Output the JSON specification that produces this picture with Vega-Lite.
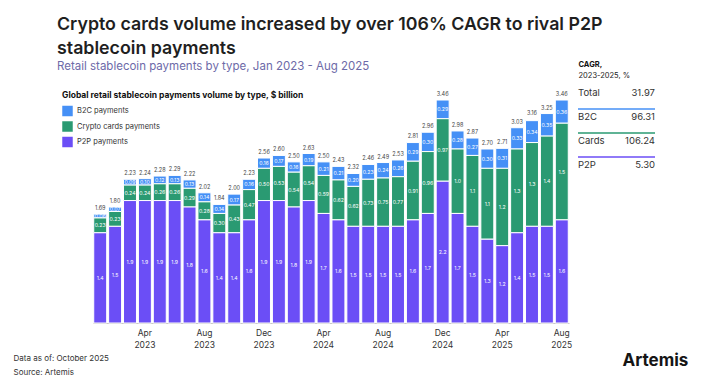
{
  "$schema": "https://vega.github.io/schema/vega-lite/v6.json",
  "width": 476,
  "height": 232,
  "autosize": {"type": "none"},
  "padding": {"left": 93, "top": 91, "right": 133, "bottom": 64},
  "background": "white",
  "config": {"font": "Inter", "view": {"stroke": null}},
  "title": {
    "text": ["Crypto cards volume increased by over 106% CAGR to rival P2P", "stablecoin payments"],
    "subtitle": "Retail stablecoin payments by type, Jan 2023 - Aug 2025",
    "anchor": "start",
    "frame": "group",
    "dx": -36,
    "offset": -12,
    "fontSize": 17.8,
    "fontWeight": 600,
    "color": "#1f1f1f",
    "lineHeight": 24,
    "subtitleFontSize": 11.5,
    "subtitleColor": "#6d6aa8",
    "subtitlePadding": 3
  },
  "datasets": {
    "m": [
      {"d": "2023-01", "P2P payments": 1.4, "Crypto cards payments": 0.23, "B2C payments": 0.06, "total": 1.69},
      {"d": "2023-02", "P2P payments": 1.5, "Crypto cards payments": 0.23, "B2C payments": 0.07, "total": 1.80},
      {"d": "2023-03", "P2P payments": 1.9, "Crypto cards payments": 0.24, "B2C payments": 0.09, "total": 2.23},
      {"d": "2023-04", "P2P payments": 1.9, "Crypto cards payments": 0.24, "B2C payments": 0.10, "total": 2.24},
      {"d": "2023-05", "P2P payments": 1.9, "Crypto cards payments": 0.26, "B2C payments": 0.12, "total": 2.28},
      {"d": "2023-06", "P2P payments": 1.9, "Crypto cards payments": 0.26, "B2C payments": 0.13, "total": 2.29},
      {"d": "2023-07", "P2P payments": 1.8, "Crypto cards payments": 0.29, "B2C payments": 0.13, "total": 2.22},
      {"d": "2023-08", "P2P payments": 1.6, "Crypto cards payments": 0.28, "B2C payments": 0.14, "total": 2.02},
      {"d": "2023-09", "P2P payments": 1.4, "Crypto cards payments": 0.30, "B2C payments": 0.14, "total": 1.84},
      {"d": "2023-10", "P2P payments": 1.4, "Crypto cards payments": 0.43, "B2C payments": 0.17, "total": 2.00},
      {"d": "2023-11", "P2P payments": 1.6, "Crypto cards payments": 0.47, "B2C payments": 0.16, "total": 2.23},
      {"d": "2023-12", "P2P payments": 1.9, "Crypto cards payments": 0.50, "B2C payments": 0.16, "total": 2.56},
      {"d": "2024-01", "P2P payments": 1.9, "Crypto cards payments": 0.53, "B2C payments": 0.17, "total": 2.60},
      {"d": "2024-02", "P2P payments": 1.8, "Crypto cards payments": 0.54, "B2C payments": 0.16, "total": 2.50},
      {"d": "2024-03", "P2P payments": 1.9, "Crypto cards payments": 0.54, "B2C payments": 0.19, "total": 2.63},
      {"d": "2024-04", "P2P payments": 1.7, "Crypto cards payments": 0.59, "B2C payments": 0.21, "total": 2.50},
      {"d": "2024-05", "P2P payments": 1.6, "Crypto cards payments": 0.62, "B2C payments": 0.21, "total": 2.43},
      {"d": "2024-06", "P2P payments": 1.5, "Crypto cards payments": 0.62, "B2C payments": 0.20, "total": 2.32},
      {"d": "2024-07", "P2P payments": 1.5, "Crypto cards payments": 0.73, "B2C payments": 0.23, "total": 2.46},
      {"d": "2024-08", "P2P payments": 1.5, "Crypto cards payments": 0.75, "B2C payments": 0.24, "total": 2.49},
      {"d": "2024-09", "P2P payments": 1.5, "Crypto cards payments": 0.77, "B2C payments": 0.26, "total": 2.53},
      {"d": "2024-10", "P2P payments": 1.6, "Crypto cards payments": 0.91, "B2C payments": 0.29, "total": 2.81},
      {"d": "2024-11", "P2P payments": 1.7, "Crypto cards payments": 0.96, "B2C payments": 0.30, "total": 2.96},
      {"d": "2024-12", "P2P payments": 2.2, "Crypto cards payments": 0.97, "B2C payments": 0.29, "total": 3.46},
      {"d": "2025-01", "P2P payments": 1.7, "Crypto cards payments": 1.0, "B2C payments": 0.28, "total": 2.98},
      {"d": "2025-02", "P2P payments": 1.5, "Crypto cards payments": 1.1, "B2C payments": 0.27, "total": 2.87},
      {"d": "2025-03", "P2P payments": 1.3, "Crypto cards payments": 1.1, "B2C payments": 0.30, "total": 2.70},
      {"d": "2025-04", "P2P payments": 1.2, "Crypto cards payments": 1.2, "B2C payments": 0.31, "total": 2.71},
      {"d": "2025-05", "P2P payments": 1.4, "Crypto cards payments": 1.3, "B2C payments": 0.33, "total": 3.03},
      {"d": "2025-06", "P2P payments": 1.5, "Crypto cards payments": 1.3, "B2C payments": 0.34, "total": 3.16},
      {"d": "2025-07", "P2P payments": 1.5, "Crypto cards payments": 1.4, "B2C payments": 0.35, "total": 3.25},
      {"d": "2025-08", "P2P payments": 1.6, "Crypto cards payments": 1.5, "B2C payments": 0.36, "total": 3.46}
    ],
    "cagr": [
      {"k": "Total", "c": 31.97},
      {"k": "B2C", "c": 96.31, "t": "B2C payments"},
      {"k": "Cards", "c": 106.24, "t": "Crypto cards payments"},
      {"k": "P2P", "c": 5.30, "t": "P2P payments"}
    ]
  },
  "layer": [
    {
      "data": {"name": "m"},
      "layer": [
        {
          "transform": [
            {"fold": ["B2C payments", "Crypto cards payments", "P2P payments"], "as": ["t", "v"]},
            {"stack": "v", "groupby": ["d"], "sort": [{"field": "t", "order": "descending"}], "as": ["y0", "y1"]},
            {"calculate": "(datum.y0 + datum.y1) / 2", "as": "ym"}
          ],
          "layer": [
            {
              "mark": {"type": "bar", "stroke": "white", "strokeWidth": 1},
              "encoding": {
                "x": {
                  "field": "d", "type": "ordinal",
                  "scale": {"paddingInner": 0.13, "paddingOuter": 0.05},
                  "axis": {
                    "labelExpr": "slice(datum.value,5)=='04' ? ['Apr', slice(datum.value,0,4)] : slice(datum.value,5)=='08' ? ['Aug', slice(datum.value,0,4)] : slice(datum.value,5)=='12' ? ['Dec', slice(datum.value,0,4)] : ''",
                    "labelAngle": 0, "labelFontSize": 8.5, "labelColor": "#333", "labelPadding": 5,
                    "labelLineHeight": 12, "labelOverlap": false,
                    "ticks": false, "domainColor": "#c8c8c8", "domainWidth": 1, "grid": false,
                    "title": ["Data as of: October 2025", "Source: Artemis"],
                    "titleX": -80, "titleY": 31, "titleAlign": "left", "titleBaseline": "top",
                    "titleFontSize": 8, "titleFontWeight": "normal", "titleColor": "#333", "titleLineHeight": 14
                  }
                },
                "y": {
                  "field": "y0", "type": "quantitative",
                  "scale": {"domain": [0, 3.6], "nice": false, "zero": true},
                  "axis": {
                    "orient": "right", "domain": false, "ticks": false, "labels": false, "grid": false,
                    "title": "Artemis", "titleAngle": 0, "titleX": 53, "titleY": 269,
                    "titleAlign": "left", "titleBaseline": "middle",
                    "titleFontSize": 17, "titleFontWeight": "bold", "titleColor": "#151515"
                  }
                },
                "y2": {"field": "y1"},
                "color": {
                  "field": "t", "type": "nominal",
                  "scale": {
                    "domain": ["B2C payments", "Crypto cards payments", "P2P payments"],
                    "range": ["#4590f6", "#2a9a72", "#6b4ef6"]
                  },
                  "legend": {
                    "orient": "none", "legendX": -31, "legendY": 0, "direction": "vertical",
                    "title": "Global retail stablecoin payments volume by type, $ billion",
                    "titleFontSize": 8.5, "titleFontWeight": "bold", "titleColor": "#111",
                    "titleLimit": 400, "titlePadding": 6,
                    "symbolType": "square", "symbolSize": 110, "symbolStrokeWidth": 0,
                    "labelFontSize": 7.5, "labelColor": "#333", "labelOffset": 4, "rowPadding": 4.5
                  }
                }
              }
            },
            {
              "transform": [{"filter": "datum.t == 'B2C payments'"}],
              "mark": {"type": "text", "fontSize": 5.2, "color": "white"},
              "encoding": {
                "x": {"field": "d", "type": "ordinal"},
                "y": {"field": "ym", "type": "quantitative"},
                "text": {"field": "v", "type": "quantitative", "format": ".2f"}
              }
            },
            {
              "transform": [{"filter": "datum.t != 'B2C payments'"}],
              "mark": {"type": "text", "fontSize": 5.2, "color": "white"},
              "encoding": {
                "x": {"field": "d", "type": "ordinal"},
                "y": {"field": "ym", "type": "quantitative"},
                "text": {"field": "v", "type": "quantitative", "format": ".2r"}
              }
            }
          ]
        },
        {
          "mark": {"type": "text", "fontSize": 5.5, "color": "#444", "dy": -6},
          "encoding": {
            "x": {"field": "d", "type": "ordinal"},
            "y": {"field": "total", "type": "quantitative"},
            "text": {"field": "total", "type": "quantitative", "format": ".2f"}
          }
        }
      ]
    },
    {
      "data": {"name": "cagr"},
      "encoding": {
        "y": {
          "field": "k", "type": "ordinal",
          "scale": {"type": "point", "domain": ["Total", "B2C", "Cards", "P2P"], "range": [2, 74], "padding": 0},
          "axis": {
            "orient": "left", "domain": false, "ticks": false, "labels": false, "grid": false,
            "title": "CAGR,", "titleAngle": 0, "titleX": 485, "titleY": -27,
            "titleAlign": "left", "titleBaseline": "middle",
            "titleFontSize": 7.5, "titleFontWeight": "bold", "titleColor": "#111"
          }
        }
      },
      "layer": [
        {
          "mark": {"type": "text", "align": "left", "fontSize": 9.5, "color": "#333"},
          "encoding": {
            "x": {
              "datum": 0, "type": "quantitative",
              "scale": {"domain": [0, 1], "range": [485, 562]},
              "axis": {
                "orient": "top", "domain": false, "ticks": false, "labels": false, "grid": false,
                "title": "2023-2025, %", "titleX": 485, "titleY": -16, "titleAngle": 0,
                "titleAlign": "left", "titleBaseline": "middle",
                "titleFontSize": 7.5, "titleFontWeight": "normal", "titleColor": "#222"
              }
            },
            "text": {"field": "k"}
          }
        },
        {
          "mark": {"type": "text", "align": "right", "fontSize": 9.5, "color": "#333"},
          "encoding": {
            "x": {"datum": 1, "type": "quantitative"},
            "text": {"field": "c", "type": "quantitative", "format": ".2f"}
          }
        },
        {
          "transform": [{"filter": "datum.k != 'Total'"}],
          "mark": {"type": "rule", "strokeWidth": 2, "yOffset": -8, "opacity": 0.75},
          "encoding": {
            "x": {"datum": 0, "type": "quantitative"},
            "x2": {"datum": 1},
            "color": {"field": "t", "type": "nominal"}
          }
        }
      ]
    }
  ],
  "resolve": {"scale": {"x": "independent", "y": "independent"}}
}
